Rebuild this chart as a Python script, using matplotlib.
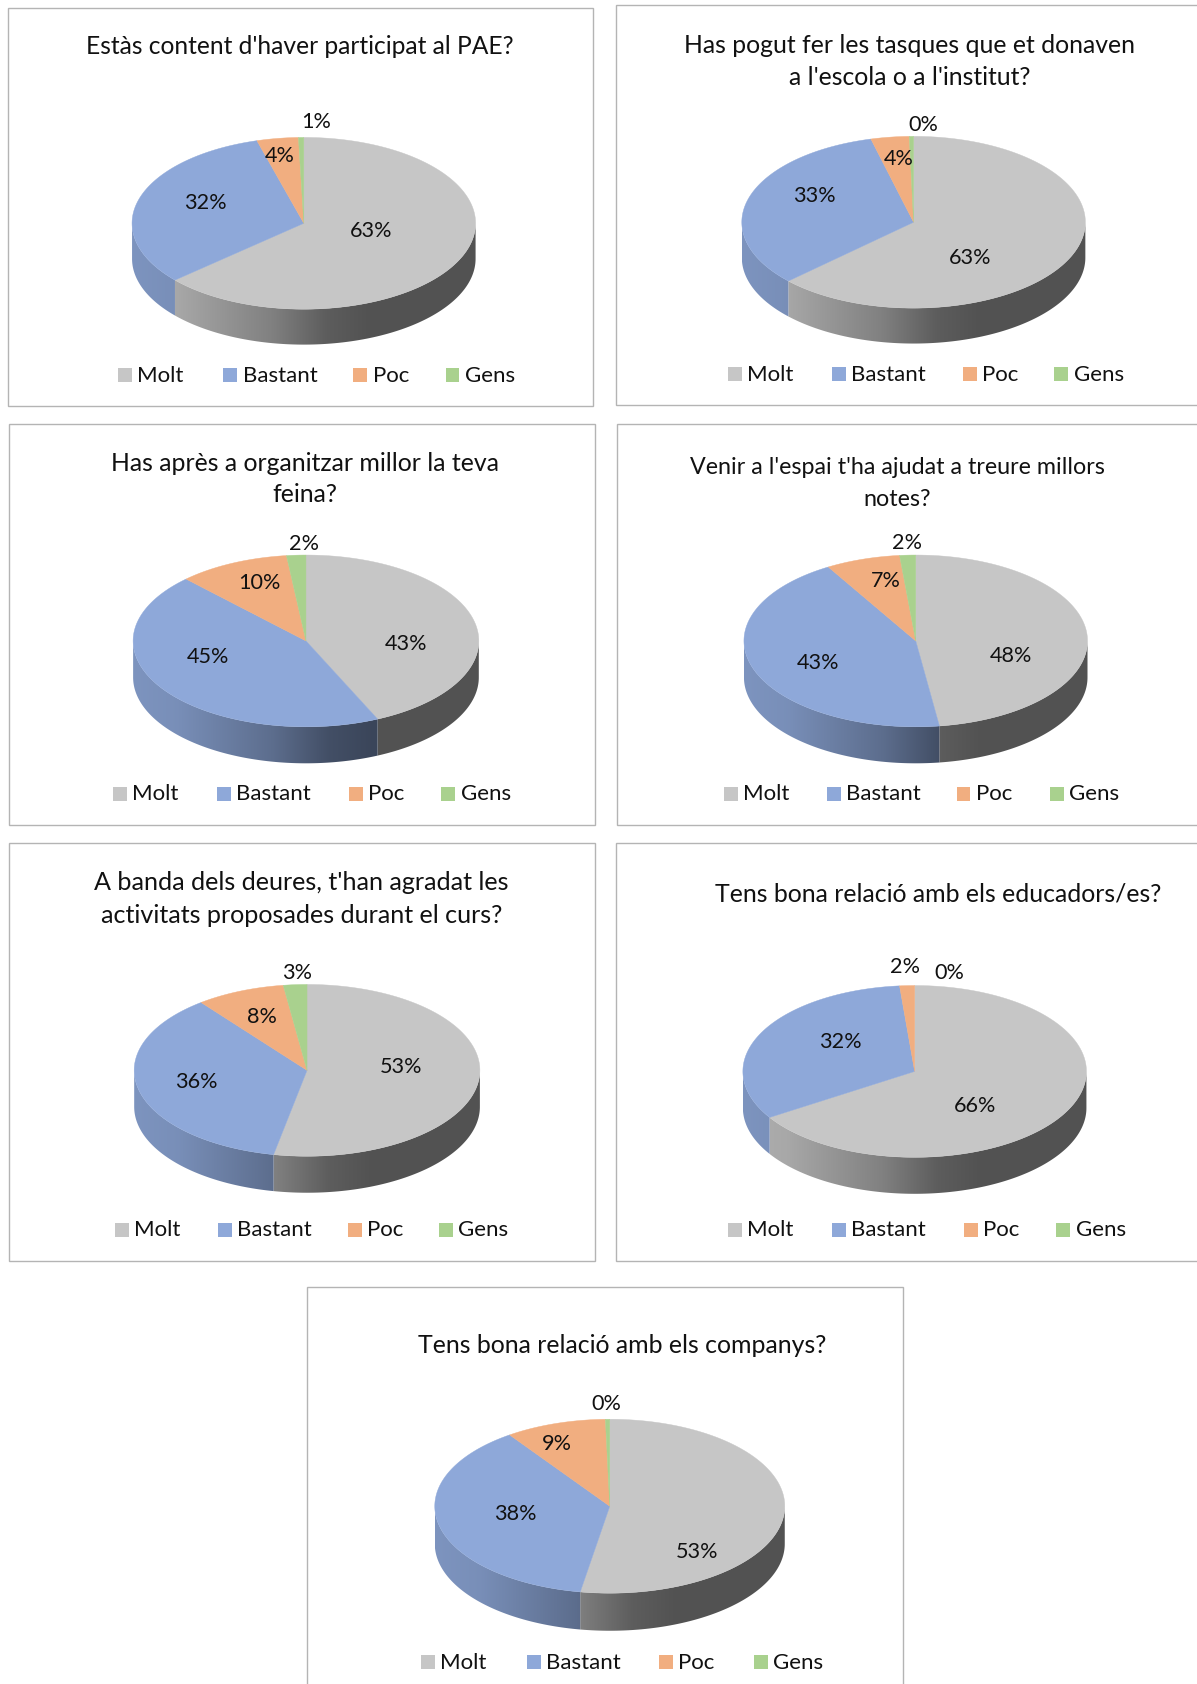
import numpy as np
import matplotlib
matplotlib.use("Agg")
import matplotlib.pyplot as plt
from matplotlib.colors import to_rgb
from matplotlib.patches import Polygon, Rectangle

plt.rcParams['font.family'] = ['Lato', 'DejaVu Sans']

categories = ["Molt", "Bastant", "Poc", "Gens"]
colors = ["#c6c6c6", "#8ea8d9", "#f1ae80", "#a9d18e"]

# titols de cada grafic
titles = [
    ["Estàs content d'haver participat al PAE?"],
    ["Has pogut fer les tasques que et donaven", "a l'escola o a l'institut?"],
    ["Has après a organitzar millor la teva", "feina?"],
    ["Venir a l'espai t'ha ajudat a treure millors", "notes?"],
    ["A banda dels deures, t'han agradat les", "activitats proposades durant el curs?"],
    ["Tens bona relació amb els educadors/es?"],
    ["Tens bona relació amb els companys?"],
]

# mida de cada sector, llegida de la imatge (Molt, Bastant, Poc, Gens)
molt = [63.5, 63.0, 43.2, 47.8, 53.1, 66.0, 52.7]
bastant = [32.1, 33.0, 44.6, 43.7, 36.4, 32.6, 37.6]
poc = [3.9, 3.6, 10.4, 7.0, 8.3, 1.4, 9.3]
gens = [0.5, 0.4, 1.8, 1.5, 2.2, 0.0, 0.4]

# percentatges tal com surten escrits
pct_molt = [63, 63, 43, 48, 53, 66, 53]
pct_bastant = [32, 33, 45, 43, 36, 32, 38]
pct_poc = [4, 4, 10, 7, 8, 2, 9]
pct_gens = [1, 0, 2, 2, 3, 0, 0]

# --- layout, tot en coordenades de la imatge reduida (1115 d'ample) ---
W, H = 1115, 1568.6
frames = [(7, 7, 552, 378), (574, 5, 1130, 377), (8, 395, 554, 768), (575, 395, 1130, 768),
          (8, 785, 554, 1175), (574, 785, 1130, 1175), (286, 1199, 841, 1590)]
centers = [(283, 208), (851, 207), (285, 597), (853, 597), (286, 997), (852, 998), (568, 1403)]
radii = [(160, 80, 33), (160, 80, 33), (161, 80, 34), (160, 80, 34), (161, 80, 34), (160, 80, 34), (163, 81, 35)]
title_y = [[41], [40, 70], [430, 459], [433, 463], [820, 851], [831], [1251]]
title_x = [279, 847, 284, 836, 281, 874, 580]
title_size = [17.75, 17.8, 17.9, 16.75, 18.05, 17.9, 17.95]
legend_x = [[110, 208, 329, 415], [678, 775, 897, 982], [105, 202, 325, 411], [674, 770, 891, 978],
            [107, 203, 324, 409], [678, 775, 898, 984], [392, 491, 614, 702]]
legend_y = [349, 348, 739, 739, 1145, 1145, 1548]
label_pos = [
    [(346, 213), (191, 187), (261, 143), (294, 112)],
    [(904, 238), (759, 181), (837, 146), (860, 114)],
    [(378, 598), (194, 610), (242, 541), (283, 505)],
    [(942, 609), (762, 616), (825, 539), (845, 504)],
    [(374, 992), (183, 1006), (244, 945), (277, 904)],
    [(908, 1028), (783, 969), (843, 899), (884, 904)],
    [(649, 1444), (480, 1408), (519, 1343), (565, 1306)],
]

LABEL_SIZE = 15.6
LEGEND_SIZE = 16
TEXT_DY = 2  # el centre vertical de Lato queda una mica alt


def arc(cx, cy, rx, ry, a, b):
    # a, b en graus, horari des de dalt
    t = np.radians(np.linspace(a, b, max(int(abs(b - a) * 2), 2)))
    return np.column_stack([cx + rx * np.sin(t), cy - ry * np.cos(t)])


def shade(rel_x):
    # foscor del lateral segons la posicio horitzontal
    return np.interp(rel_x, [-1.0, -0.75, -0.19, 0.13, 0.38, 1.0],
                     [0.88, 0.85, 0.65, 0.47, 0.415, 0.415])


def draw_pie(ax, values, cx, cy, rx, ry, depth):
    total = sum(values)
    edges = np.cumsum([0] + list(values)) / total * 360

    # primer el lateral, amb degradat
    for i, v in enumerate(values):
        a, b = max(edges[i], 90), min(edges[i + 1], 270)
        if v == 0 or b <= a:
            continue
        top = arc(cx, cy, rx, ry, a, b)
        bottom = top[::-1] + [0, depth]
        clip = Polygon(np.vstack([top, bottom]), closed=True, transform=ax.transData)
        xs = np.linspace(-1, 1, 320)
        grad = np.outer(shade(xs), to_rgb(colors[i]))[np.newaxis, :, :]
        im = ax.imshow(grad, extent=(cx - rx, cx + rx, cy + ry + depth + 2, cy - ry),
                       aspect='auto', interpolation='bilinear', zorder=2)
        im.set_clip_path(clip)

    # despres la cara de dalt
    for i, v in enumerate(values):
        if v == 0:
            continue
        pts = np.vstack([[cx, cy], arc(cx, cy, rx, ry, edges[i], edges[i + 1])])
        ax.add_patch(Polygon(pts, closed=True, facecolor=colors[i], edgecolor=colors[i],
                             linewidth=0.3, zorder=3))


fig = plt.figure(figsize=(11.97, 16.84), dpi=100, facecolor="white")
ax = fig.add_axes([0, 0, 1, 1])

for k in range(len(titles)):
    x0, y0, x1, y1 = frames[k]
    ax.add_patch(Rectangle((x0, y0), x1 - x0, y1 - y0, facecolor="white",
                           edgecolor="#b4b4b4", linewidth=1.0, zorder=1))

    for line, y in zip(titles[k], title_y[k]):
        ax.text(title_x[k], y + TEXT_DY, line, fontsize=title_size[k], ha="center", va="center",
                color="#111111", zorder=5)

    cx, cy = centers[k]
    rx, ry, depth = radii[k]
    draw_pie(ax, [molt[k], bastant[k], poc[k], gens[k]], cx, cy, rx, ry, depth)

    pcts = [pct_molt[k], pct_bastant[k], pct_poc[k], pct_gens[k]]
    for pct, (lx, ly) in zip(pcts, label_pos[k]):
        ax.text(lx, ly + TEXT_DY, f"{pct}%", fontsize=LABEL_SIZE, ha="center", va="center",
                color="#111111", zorder=5)

    for name, col, lx in zip(categories, colors, legend_x[k]):
        ax.add_patch(Rectangle((lx, legend_y[k] - 6), 13, 13, facecolor=col, edgecolor="none", zorder=4))
        ax.text(lx + 18, legend_y[k] + TEXT_DY - 1, name, fontsize=LEGEND_SIZE, ha="left", va="center",
                color="#111111", zorder=5)

ax.set_xlim(0, W)
ax.set_ylim(H, 0)
ax.axis('off')

fig.savefig("out.png", dpi=100)
